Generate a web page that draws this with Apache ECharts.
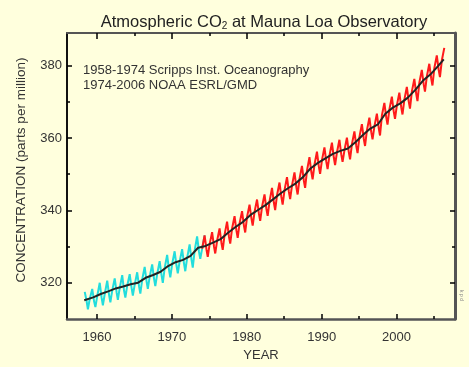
<!DOCTYPE html>
<html>
<head>
<meta charset="utf-8">
<script src="https://cdn.jsdelivr.net/npm/echarts@6/dist/echarts.min.js"></script>
<style>
html,body{margin:0;padding:0;background:#ffffdd;}
#chart{width:469px;height:367px;}
</style>
</head>
<body>
<div id="chart"></div>
<script>
// ---- data ----
const years = [1958,1959,1960,1961,1962,1963,1964,1965,1966,1967,1968,1969,1970,1971,1972,1973,1974,
  1975,1976,1977,1978,1979,1980,1981,1982,1983,1984,1985,1986,1987,1988,1989,1990,1991,1992,1993,1994,
  1995,1996,1997,1998,1999,2000,2001,2002,2003,2004,2005,2006];
// seasonal samples within each year: fraction of year for January, May (peak), August, October (trough)
const sampleMonths = [0.04, 0.37, 0.62, 0.79];
const janValues = [null,315.6,316.4,316.9,317.9,318.6,319.2,319.5,320.9,321.7,322.4,324.1,325.2,325.9,326.9,328.9,329.4,
  330.6,331.6,333.3,335.0,336.4,338.2,339.6,341.0,342.5,344.2,345.6,346.9,348.7,351.0,352.6,353.9,355.1,356.0,356.6,358.3,
  360.3,362.1,363.2,366.2,367.9,369.0,370.6,372.8,375.3,377.0,379.3,381.4];
const mayValues = [317.5,318.3,320.0,320.6,321.2,322.1,322.4,322.9,324.4,325.1,326.0,327.7,328.7,329.3,330.6,332.8,333.1,
  334.0,335.0,336.9,338.4,339.8,341.6,343.0,344.4,346.2,347.7,349.2,350.5,352.3,354.7,356.2,357.4,358.7,359.5,360.1,361.8,
  363.8,365.6,366.7,369.7,371.4,372.5,374.1,376.3,378.8,380.5,382.8,384.9];
const augValues = [314.9,314.8,315.9,316.6,317.4,317.8,318.6,319.0,320.4,321.1,322.1,323.6,324.7,325.3,326.4,328.6,329.2,
  330.1,331.0,332.8,334.4,335.8,337.8,339.1,340.4,342.1,343.7,345.1,346.4,348.2,350.6,352.1,353.4,354.6,355.4,356.1,357.8,
  359.8,361.6,362.7,365.7,367.3,368.5,370.1,372.2,374.8,376.5,378.8,null];
const octValues = [312.7,313.3,313.8,314.6,315.3,315.9,316.5,317.0,318.3,319.1,320.0,321.5,322.6,323.2,324.2,326.6,327.2,
  328.1,329.1,330.8,332.4,333.9,335.8,337.1,338.5,340.1,341.6,343.1,344.4,346.2,348.6,350.1,351.4,352.5,353.4,354.1,355.8,
  357.8,359.6,360.7,363.7,365.3,366.5,368.1,370.2,372.8,374.5,376.8,null];
const scrippsLastYear = 1974;   // cyan record runs 1958 - early 1974
const noaaFirstYear = 1974;     // red record from 1974 onwards
const trendTimes = [1958.3,1959.5,1960.5,1961.5,1962.5,1963.5,1964.5,1965.5,1966.5,1967.5,1968.5,1969.5,1970.5,1971.5,1972.5,1973.5,1974.5,
  1975.5,1976.5,1977.5,1978.5,1979.5,1980.5,1981.5,1982.5,1983.5,1984.5,1985.5,1986.5,1987.5,1988.5,1989.5,1990.5,1991.5,1992.5,1993.5,1994.5,
  1995.5,1996.5,1997.5,1998.5,1999.5,2000.5,2001.5,2002.5,2003.5,2004.5,2005.5,2006.3];
const trendValues = [315.2,315.98,316.91,317.64,318.45,318.99,319.62,320.04,321.38,322.16,323.04,324.62,325.68,326.32,327.45,329.68,330.18,
  331.11,332.04,333.83,335.40,336.84,338.75,340.11,341.45,343.05,344.65,346.12,347.42,349.19,351.57,353.12,354.39,355.61,356.45,357.10,358.83,
  360.82,362.61,363.73,366.70,368.38,369.55,371.14,373.28,375.80,377.52,379.80,381.7];
const xMajorTicks = [1960,1970,1980,1990,2000];
const xMinorTicks = [1965,1975,1985,1995,2005];
const yMajorTicks = [320,340,360,380];
const yMinorTicks = [330,350,370];
const titleParts = ['Atmospheric CO', '2', ' at Mauna Loa Observatory'];
const noteLines = ['1958-1974 Scripps Inst. Oceanography', '1974-2006 NOAA ESRL/GMD'];

// ---- build series data ----
function seasonal(fromYear, toYear, maxMonthIdx) {
  const out = [];
  const cols = [janValues, mayValues, augValues, octValues];
  years.forEach((y, i) => {
    if (y < fromYear || y > toYear) return;
    for (let k = 0; k < 4; k++) {
      if (y === toYear && maxMonthIdx != null && k > maxMonthIdx) continue;
      const v = cols[k][i];
      if (v == null) continue;
      out.push([y + sampleMonths[k], v]);
    }
  });
  return out;
}
const scrippsData = seasonal(1958, scrippsLastYear, 1);
const noaaData = seasonal(noaaFirstYear, 2006, null);
const trendData = trendTimes.map((t, i) => [t, trendValues[i]]);

const FONT = '"Liberation Sans", Arial, Helvetica, sans-serif';
const XMIN = 1956, XMAX = 2007.8, YMIN = 310, YMAX = 389;
const labelStyle = {fontFamily: FONT, fontSize: 13, color: '#333', formatter: v => String(v)};

function xAx(pos, ticks, len, showLine, lineColor, lineWidth, showLabel) {
  return {
    type: 'value', position: pos, min: XMIN, max: XMAX,
    axisLine: {show: showLine, onZero: false, lineStyle: {color: lineColor, width: lineWidth}},
    axisTick: {show: true, inside: true, length: len, customValues: ticks, lineStyle: {color: '#000', width: 1.5}},
    axisLabel: showLabel ? Object.assign({show: true, customValues: ticks, margin: 12}, labelStyle) : {show: false},
    splitLine: {show: false}
  };
}
function yAx(pos, ticks, len, showLine, lineColor, lineWidth, showLabel) {
  return {
    type: 'value', position: pos, min: YMIN, max: YMAX,
    axisLine: {show: showLine, onZero: false, lineStyle: {color: lineColor, width: lineWidth}},
    axisTick: {show: true, inside: true, length: len, customValues: ticks, lineStyle: {color: '#000', width: 1.5}},
    axisLabel: showLabel ? Object.assign({show: true, customValues: ticks, margin: 5}, labelStyle) : {show: false},
    splitLine: {show: false}
  };
}

const xAxes = [
  xAx('bottom', xMajorTicks, 5, true, '#555', 2.5, true),
  xAx('bottom', xMinorTicks, 3, false, '#555', 1, false),
  xAx('top', xMajorTicks, 6, true, '#555', 2, false),
  xAx('top', xMinorTicks, 3, false, '#555', 1, false)
];
xAxes[0].name = 'YEAR';
xAxes[0].nameLocation = 'middle';
xAxes[0].nameGap = 30;
xAxes[0].nameTextStyle = {fontFamily: FONT, fontSize: 13, color: '#333'};

const yAxes = [
  yAx('left', yMajorTicks, 5, true, '#111', 2, true),
  yAx('left', yMinorTicks, 3, false, '#111', 1, false),
  yAx('right', yMajorTicks, 5, true, '#555', 3, false),
  yAx('right', yMinorTicks, 3, false, '#555', 1, false)
];
yAxes[0].name = 'CONCENTRATION (parts per million)';
yAxes[0].nameLocation = 'middle';
yAxes[0].nameGap = 39;
yAxes[0].nameTextStyle = {fontFamily: FONT, fontSize: 13.5, color: '#333', padding: [0, 0, 0, 12]};

const chart = echarts.init(document.getElementById('chart'), null, {renderer: 'canvas'});
chart.setOption({
  backgroundColor: '#ffffdd',
  animation: false,
  title: {
    text: '{a|' + titleParts[0] + '}{s|' + titleParts[1] + '}{a|' + titleParts[2] + '}',
    left: 259, top: 8, textAlign: 'center',
    textStyle: {
      fontWeight: 'normal',
      rich: {
        a: {fontFamily: FONT, fontSize: 16.5, fontWeight: 'normal', color: '#222'},
        s: {fontFamily: FONT, fontSize: 10, fontWeight: 'normal', color: '#222', padding: [8, 0, 0, 0]}
      }
    }
  },
  grid: {left: 67, right: 14, top: 33, bottom: 48, containLabel: false},
  xAxis: xAxes,
  yAxis: yAxes,
  graphic: [
    {type: 'text', left: 83, top: 64, style: {text: noteLines[0], font: '13px ' + FONT, fill: '#333'}},
    {type: 'text', left: 83, top: 79, style: {text: noteLines[1], font: '13px ' + FONT, fill: '#333'}},
    {type: 'text', left: 459, top: 290, rotation: -Math.PI / 2, style: {text: 'k p d', font: '5px ' + FONT, fill: '#888'}}
  ],
  series: [
    {type: 'line', xAxisIndex: 0, yAxisIndex: 0, data: scrippsData, showSymbol: false,
     lineStyle: {color: '#22dddd', width: 2}, z: 2},
    {type: 'line', xAxisIndex: 0, yAxisIndex: 0, data: noaaData, showSymbol: false,
     lineStyle: {color: '#ff1a1a', width: 2}, z: 3},
    {type: 'line', xAxisIndex: 0, yAxisIndex: 0, data: trendData, showSymbol: false,
     lineStyle: {color: '#222', width: 2}, z: 4}
  ]
});
</script>
</body>
</html>
